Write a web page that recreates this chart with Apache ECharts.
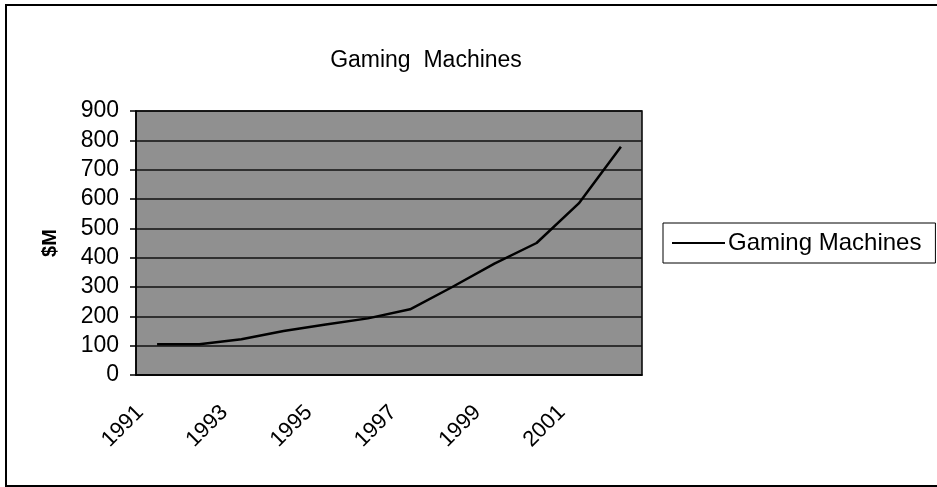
<!DOCTYPE html>
<html>
<head>
<meta charset="utf-8">
<script src="https://cdn.jsdelivr.net/npm/echarts@6/dist/echarts.min.js"></script>
<style>
  html, body { margin: 0; padding: 0; background: #fff; }
  #chart { width: 937px; height: 487px; }
</style>
</head>
<body>
<div id="chart"></div>
<script>
// values ($M)
let years = ['1991', '1992', '1993', '1994', '1995', '1996', '1997', '1998', '1999', '2000', '2001', '2002'];
let gaming = [105, 105, 122, 150, 172, 193, 224, 300, 380, 450, 585, 778];
let yTicks = [0, 100, 200, 300, 400, 500, 600, 700, 800, 900];

let font = 'Liberation Sans, Arial, sans-serif';
let myChart = echarts.init(document.getElementById('chart'));

let option = {
  animation: false,
  backgroundColor: '#fff',
  title: {
    text: 'Gaming  Machines',
    left: 421,
    textAlign: 'center',
    top: 44,
    textStyle: { fontFamily: font, fontSize: 23, fontWeight: 'normal', color: '#000' }
  },
  legend: {
    left: 663,
    top: 223,
    orient: 'vertical',
    data: ['Gaming Machines'],
    icon: 'rect',
    itemWidth: 53,
    itemHeight: 2,
    itemGap: 0,
    padding: [8, 14, 8, 9],
    borderColor: '#000',
    borderWidth: 1,
    borderRadius: 0,
    textStyle: { fontFamily: font, fontSize: 24, color: '#000', padding: [0, 0, 0, -2] }
  },
  grid: {
    left: 136,
    right: 295,
    top: 111,
    bottom: 112,
    show: true,
    backgroundColor: '#909090',
    borderColor: '#000',
    borderWidth: 1.5
  },
  xAxis: {
    type: 'category',
    data: years,
    boundaryGap: true,
    axisLine: { lineStyle: { color: '#000', width: 1.5 } },
    axisTick: { interval: 0, length: 6, lineStyle: { color: '#000', width: 1.5 } },
    axisLabel: {
      interval: 1,
      rotate: 45,
      margin: 17,
      padding: [0, 24, 0, 0],
      fontFamily: font,
      fontSize: 22,
      color: '#000'
    }
  },
  yAxis: {
    type: 'value',
    min: yTicks[0],
    max: yTicks[yTicks.length - 1],
    interval: 100,
    name: '$M',
    nameLocation: 'middle',
    nameGap: 76,
    nameTextStyle: { fontFamily: font, fontSize: 20, fontWeight: 'bold', color: '#000' },
    axisLine: { show: true, lineStyle: { color: '#000', width: 1.5 } },
    axisTick: { show: true, length: 6, lineStyle: { color: '#000', width: 1.5 } },
    axisLabel: { margin: 17, fontFamily: font, fontSize: 23, color: '#000' },
    splitLine: { show: true, lineStyle: { color: '#111', width: 1.5 } }
  },
  series: [
    {
      name: 'Gaming Machines',
      type: 'line',
      data: gaming,
      showSymbol: false,
      symbol: 'none',
      lineStyle: { color: '#000', width: 2.5 },
      itemStyle: { color: '#000' }
    }
  ],
  graphic: [
    {
      type: 'polyline',
      shape: { points: [[937, 5], [6, 5], [6, 486], [937, 486]] },
      style: { stroke: '#000', lineWidth: 2, fill: null }
    }
  ]
};
myChart.setOption(option);
</script>
</body>
</html>
